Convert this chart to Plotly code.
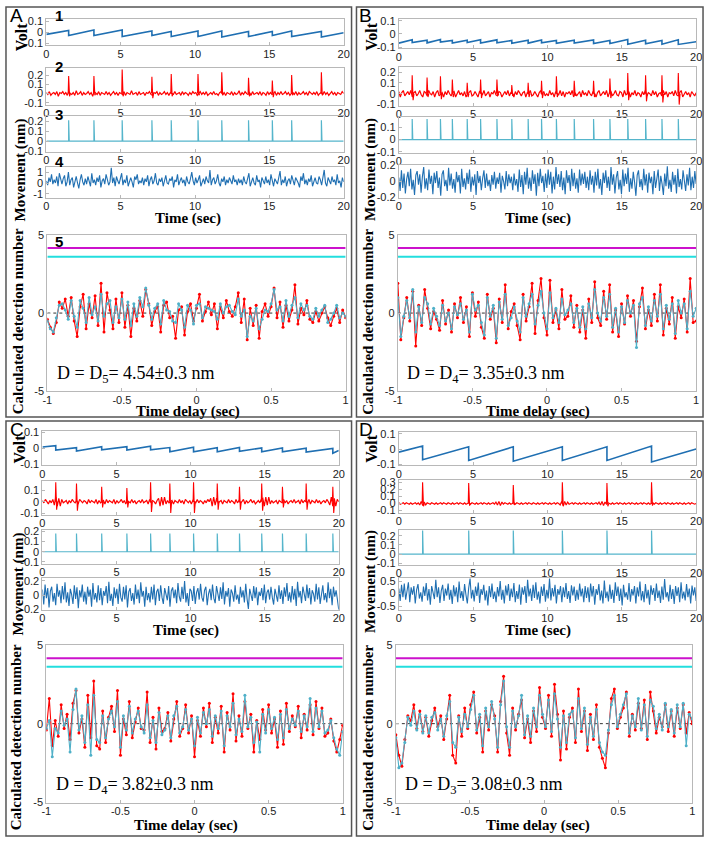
import numpy as np
import plotly.graph_objects as go

W, H = 711, 844

# ---------------- data ----------------
# Panel A
a_reset = [1.5, 3.2, 5.1, 7.1, 8.4, 10.2, 11.8, 13.6, 15.2, 16.5, 18.5]
a_volt_hi = [0.015, 0.02, 0.02, 0.01, 0.005, 0.01, 0.01, 0.005, 0.005, 0.01, 0.005]
a_volt_lo = [-0.03, -0.03, -0.04, -0.03, -0.04, -0.04, -0.045, -0.04, -0.03, -0.04, -0.045]
a_volt_ends = [-0.02, -0.005]
a_spike = [0.19, 0.19, 0.26, 0.18, 0.21, 0.21, 0.23, 0.17, 0.14, 0.2, 0.23]
a_spike_neg = [-0.03, -0.02, -0.03, -0.05, -0.03, -0.02, -0.02, -0.03, -0.04, -0.02, -0.02]
a_model = 0.21
a_noise = [1, -1, 2, -2, 0, 1, -1, 2, -3, 1, 0, 2, -1, 1, -2, 2, 0, -1, 1, -2,
           3, -1, 0, 2, -2, 1, -1, 0, 2, -1, 1, -3, 2, 0, -1, 2, -2, 1, 0, -1,
           2, -1, 1, -2, 0, 2, -1, 1, -2, 1, 0, -1, 2, -2, 1, 0, -1, 3, -1, 0,
           1, -2, 2, -1, 0, 1, -2, 1, 0, 2, -1, -2, 1, 0, 2, -2, 1, -1, 0, 2,
           -1, 1, -2, 1, 0, -1, 2, -1, 0, 1, -2, 2, -1, 1, 0, -2, 1, -1, 2, 0,
           1, -2, 0, 2, -1, 1, -1, 2, -2, 0, 1, -1, 2, -1, 0, -2, 1, 2, -1, 1,
           -2, 1, 0, -1, 2, -2, 1, -1, 0, 3, -2, 1, -1, 2, 0, -1, 1, -2, 2, -1,
           0, 1, -1, 2, -2, 1, 0, -2, 2, -1, 1, -1, 0, 2, -2, 1, -1, 2, -1, 0,
           2, -1, 1, -2, 0, 1, -1, 2, -2, 1, -1, 0, 2, -1, 1, -2, 2, 0, -1, 1,
           -1, 2, -2, 0, 1, -1, 2, -1, 1, -2, 0, 2, -1, 1, -2, 1, 0, -1, 2, 0]  # x0.01 V
a_move = [2, -2, 5, 1, 8, -1, 3, 0, 6, -3, 9, 2, -1, 4, 7, -3, 1, 10, -2, 3, 5, -4, 2, 6, 0, -5, 3, 8, 1, -2,
          4, -1, 6, 2, -3, 9, 0, 3, -2, 5, 1, 7, -4, 2, 4, -1, 8, 3, -2, 1, 14, 0, 5, -3, 6, 2, -1, 4, 9, -2,
          3, 0, 7, -3, 2, 5, 1, -4, 6, 3, 8, -1, 2, 0, 5, -2, 4, 1, 7, -3, 3, 6, -1, 2, 9, 0, -2, 4, 1, 5,
          -3, 3, 7, 0, -1, 4, 2, 6, -4, 3, 1, 8, -2, 2, 5, 0, 3, -3, 6, 1, -1, 4, 10, 2, -2, 5, 0, 3, 7, -3,
          1, 4, -1, 6, 2, 0, 12, -2, 3, 5, -1, 2, 8, 0, -3, 4, 1, 6, -2, 3, 0, 5, 2, -1, 7, 1, 3, -2, 4, 0,
          3, -2, 6, 1, -1, 4, 9, -3, 2, 5, 0, -2, 7, 1, 3, -4, 5, 2, -1, 6, 0, 3, -2, 8, 1, -3, 4, 2, -1, 5,
          11, -2, 3, 0, 6, -3, 2, 4, -1, 7, 1, -2, 5, 3, 0, -4, 6, 2, 9, -1, 3, -2, 4, 1, 7, -3, 2, 5, 0, -1,
          6, 3, -2, 4, 12, 0, -3, 5, 2, -1, 6, 1, 3, -2, 8, 0, 2, -4, 5, 1]  # x0.1 nm
a_det_red = [-4, -9, -13, -6, 7, 3, 9, -2, 10, -5, -15, 4, 12, -10, 6, -3, 11, -8, 19, -12, 13, 2, -10, 9, -6,
             13, -9, 5, -15, 3, -5, 8, -2, 15, 6, -8, 1, 4, -12, 5, 7, -3, -2, -16, 2, 4, -14, 1, 6, -5,
             3, 12, -5, 1, 7, -1, 6, -10, 4, -3, 8, 1, -2, 4, 13, -6, 9, -17, 3, -8, 5, -16, 1, 6, -2,
             4, 16, -3, 7, -9, 5, -5, 2, 18, -7, 3, -1, 8, -4, -6, 1, -5, 0, 4, -3, -8, -2, 3, -6, 2, -3]
a_det_cyan = [-5, -10, -12, -3, 5, 6, 2, -4, 8, -2, -9, 8, 3, -6, 10, -1, 4, -5, 12, -2, 6, 8, -6, 4, -3,
              9, -4, 7, -8, 6, -2, 10, 4, 16, 5, -4, 3, 6, -7, 8, 2, 1, -5, -6, 6, 2, -9, 5, 2, -7,
              5, 6, -3, 4, 3, 2, 1, -4, 6, 0, 4, 5, 1, -1, 9, -2, 2, -15, -2, -5, 3, -10, -4, 2, 1,
              6, 15, 2, 4, -5, 8, -2, 5, 10, -3, 6, 2, 5, -2, -4, 3, -2, 2, 5, -6, -4, 0, 5, -3, 0, -2]

# Panel B
b_reset = [0.9, 1.9, 2.8, 3.6, 4.6, 5.5, 6.6, 7.6, 8.7, 9.6, 10.6, 11.8, 13.1, 14.2, 15.4, 16.6, 17.7, 18.8]
b_volt_hi = [-0.045, -0.048, -0.042, -0.05, -0.047, -0.044, -0.045, -0.05, -0.048, -0.046, -0.05, -0.047,
             -0.045, -0.05, -0.043, -0.048, -0.05, -0.045]
b_volt_lo = [-0.065, -0.068, -0.062, -0.07, -0.066, -0.07, -0.068, -0.072, -0.07, -0.068, -0.072, -0.07,
             -0.074, -0.073, -0.078, -0.075, -0.078, -0.08]
b_volt_ends = [-0.07, -0.06]
b_spike = [0.17, 0.15, 0.16, 0.13, 0.1, 0.13, 0.13, 0.08, 0.1, 0.12, 0.16, 0.12, 0.12, 0.14, 0.19, 0.17, 0.17, 0.19]
b_spike_neg = [-0.06, -0.03, -0.05, -0.03, -0.03, -0.04, -0.02, -0.02, -0.03, -0.04, -0.03, -0.02, -0.03,
               -0.04, -0.06, -0.07, -0.08, -0.1]
b_model = 0.17
b_noise = [2, -3, 1, 3, -2, 0, 2, -1, 3, -3, 1, 2, -2, 0, 3, -1, -3, 2, 1, -2,
           3, 0, -1, 2, -3, 1, 3, -2, 0, 1, -3, 2, -1, 3, 0, -2, 1, 2, -3, 0,
           3, -1, 1, -2, 2, -3, 0, 1, 3, -2, -1, 2, 0, -3, 2, 1, -1, 3, -2, 0,
           2, -3, 1, 0, 3, -1, -2, 2, 1, -3, 0, 2, -1, 3, -2, 1, 0, -3, 2, -1,
           3, 0, -2, 1, 2, -3, 1, 0, 3, -2, -1, 2, 0, -3, 1, 3, -1, 2, -2, 0,
           -2, 3, -1, 1, -3, 2, 0, -1, 3, -2, 2, -3, 1, 0, 2, -1, 3, -3, 1, -2,
           0, 2, -3, 3, -1, 1, -2, 3, 0, -2, 2, -1, -3, 1, 3, -2, 0, 2, -1, 3,
           -3, 1, 2, -2, 0, 3, -1, -2, 2, 1, -3, 3, -1, 0, 2, -3, 1, -1, 3, -2,
           1, 0, -3, 2, -1, 3, -2, 1, 0, -2, 3, -1, 2, -3, 0, 1, -2, 3, -1, 2,
           -3, 1, 0, 2, -2, 3, -1, -2, 1, 3, -3, 0, 2, -1, 1, -3, 2, 0, -2, 1]
b_move = [5, -12, 14, -8, 10, -15, 3, 12, -6, 16, -10, 2, -17, 8, 13, -4, 9, -14, 6, 18, -9, 4, -11, 15, -3,
          7, -16, 11, -2, 13, -8, 5, -18, 9, 14, -6, 2, -12, 17, -5, 10, -9, 3, -14, 12, -1, 8, -15, 16, -7,
          4, -10, 11, -3, 15, -13, 6, -5, 9, -17, 13, -2, 7, -11, 4, 14, -8, 10, -6, 2, -12, 8, -4, 12, -9,
          5, -3, 11, -14, 7, 0, -10, 13, -6, 9, -2, 6, -11, 10, -5, 3, -13, 15, -7, 8, -16, 12, -4, 17, -9,
          5, -12, 14, -3, 9, -18, 11, -6, 16, -2, 7, -13, 10, -8, 15, -4, 12, -15, 6, -10, 18, -3, 9, -7, 13,
          -11, 5, -16, 14, -2, 8, -12, 16, -6, 11, -9, 4, -14, 15, -5, 10, -3, 12, -8, 6, -11, 14, -4,
          7, -14, 12, -5, 16, -9, 3, -17, 11, -2, 14, -8, 6, -12, 18, -4, 9, -15, 5, 13, -10, 2, -16, 15, -6,
          10, -3, 17, -13, 4, -9, 12, -1, -18, 8, 14, -7, 3, -11, 16, -5, 9, -14, 11, -2, 6, -16, 13, -8, 4,
          15, -12, 7, -3, -17, 10, -6, 19, -9, 2, -13, 12, -4, 8, -15, 16, -7, 3, -10, 14, -1, -12, 9, -5, 17,
          -11, 6, -8, 13, -3]  # x0.01 nm
b_det_red = [19, -17, -3, 10, -5, 14, -21, 5, -8, 15, 3, -10, 1, -4, -11, 8, -7, 2, -12, 6, -3, 10, -6, 4, -15,
             13, -2, 7, -9, -16, 12, -4, 3, -19, 9, -6, 18, -10, 1, 6, -8, -17, 12, -5, 4, 19, -13, 8, 22, -3,
             -14, 21, -6, 2, -10, 15, -4, -2, 11, -9, 5, -12, 2, -16, 9, -6, 20, -3, -8, 14, -4, 18, -12, 2,
             -15, 6, -7, 11, -2, 8, -18, 4, 16, -10, 2, -8, 12, -5, 18, -14, 3, -7, 10, -16, 4, -3, 9, -12,
             22, -6, -5]
b_det_cyan = [10, -15, -2, 8, -3, 15, -12, 4, -6, 10, 6, -7, 3, -2, -8, 5, -5, 0, -10, 4, -1, 6, -4, 2, -12,
              12, 2, 5, -6, -14, 10, -2, 5, -16, 7, -4, 12, -8, -3, 4, -5, -12, 10, -2, 6, 12, -7, 5, 14, 0,
              -10, 13, -3, 3, -6, 9, -1, 2, 6, -6, 3, -9, 4, -10, 6, -3, 15, 0, -5, 10, -2, 12, -9, 3, -12,
              4, -6, 8, 0, 5, -22, 6, 10, -8, 4, -5, 8, -2, 12, -10, 5, -4, 6, -13, 8, 0, 6, -10, 14, -2, 3]

# Panel C
c_reset = [0.9, 2.3, 4.0, 5.7, 7.3, 8.6, 10.2, 11.8, 13.3, 14.8, 16.2, 17.8, 19.6]
c_volt_hi = [0.018, 0.005, 0.012, 0.012, 0.015, 0.006, 0.008, 0.005, 0.006, 0.004, 0.003, 0.002, 0.0]
c_volt_lo = [-0.01, -0.015, -0.008, -0.01, -0.008, -0.02, -0.02, -0.02, -0.018, -0.02, -0.02, -0.022, -0.03]
c_volt_ends = [0.01, -0.012]
c_spike = [0.17, 0.16, 0.13, 0.12, 0.17, 0.16, 0.17, 0.16, 0.13, 0.16, 0.13, 0.16, 0.13]
c_spike_neg = [-0.07, -0.08, -0.05, -0.05, -0.09, -0.1, -0.1, -0.07, -0.07, -0.08, -0.05, -0.07, -0.1]
c_model = 0.18
c_noise = [1, -1, 2, 0, -2, 1, -1, 2, -3, 4, -4, 3, -4, 2, -1, 0, 1, -2, 1, -1,
           2, 0, -1, 1, -2, 2, 0, -1, 1, 0, -2, 2, -1, 1, 0, -1, 2, -2, 1, -1,
           0, 1, -2, 2, -1, 1, 0, -1, 2, -2, 1, -1, 0, 2, -1, 1, -2, 1, 0, -1,
           2, -1, 1, -2, 0, 1, -1, 2, -1, 0, 1, -2, 2, -1, 1, 0, -2, 1, 3, -4,
           4, -3, 4, -2, 1, -1, 0, 1, -2, 1, 0, -1, 2, -1, 1, -2, 2, 0, -1, 1,
           -2, 1, 0, -1, 2, -1, 1, 0, -2, 1, -1, 2, 0, 3, -4, 4, -3, 3, -1, 0,
           1, -2, 1, 0, -1, 2, -1, 1, 0, -2, 2, -1, 1, -1, 0, 2, -2, 1, -1, 0,
           2, -1, 1, -2, 0, 1, -1, 2, 3, -4, 4, -3, 4, -2, 1, -1, 0, 1, -2, 1,
           0, -1, 2, -1, 1, -2, 0, 1, -1, 2, -1, 0, 1, -2, 2, -1, 1, 0, -1, 2,
           -2, 1, 0, -1, 2, -1, 1, -2, 0, 1, -1, 2, 0, -3, 4, -4, 3, -4, 2, 0]
c_move = [8, -13, 15, -4, 10, -17, 6, 12, -9, 3, -14, 16, -2, 7, -11, 13, -6, 18, -10, 4, -15, 9, 1, -12, 14,
          -5, 11, -18, 7, -3, 15, -9, 5, -13, 12, -2, 8, -16, 17, -6, 3, -10, 14, -7, 10, -14, 6, -1, 13, -11,
          19, -8, 2, -15, 11, -4, 9, -12, 16, -3, -9, 12, -6, 14, -17, 5, 10, -8, 3, -13, 15, -5, 8, -11, 18,
          -2, 6, -16, 12, -7,
          3, -10, 12, -6, 15, -14, 5, 9, -8, 14, -3, -12, 10, 2, -7, 13, -16, 6, 11, -4, 8, -11, 17, -2, -9,
          12, -5, 20, -10, 3, -15, 9, 6, -8, 13, -12, 4, 10, -6, 16, -3, -9, 7, 12, -14, 2, 9, -7, 15, -4,
          -11, 13, 0, -8, 11, -5, 18, -13, 6, -2, 10, -16, 8, 3, -9, 14, -6, 1, -12, 12, -3, 7, -10, 16, -5,
          -19, 9, 2, -8, 13, -4, 11, -14, 5, -1, 10, -7, 15, -11, 4, 8, -6, 12, -3, -13, 9, 1, -9, 14, -5,
          7, -12, 11, -2, 17, -8, 4, -10, 13, -6, 9, -15, 19, -3, 6, -11, 12, -1, -8, 15, -4, 10, -13, 7, 2,
          -9, 16, -6, 11, -12, 5, 14, -7, 3, -10, 18, -4, 9, -14, 12, -2, 7, -6, -20]
c_det_red = [-4, 16, -14, 2, -8, 12, -3, 6, -10, 13, 21, -6, 3, -15, 18, -9, 27, -14, -16, 8, -12, 4, 11, -5, 21,
             -20, 3, -7, 14, -9, 1, 10, -3, -4, 20, -12, 4, -16, 10, -5, -3, 7, -11, 3, 14, -8, -3, 12, -6, 5,
             -21, 2, -8, 10, -2, 13, -12, 4, -6, 11, -18, 7, -4, 19, -11, 5, -8, 14, -3, 6, -18, 2, -10, 9, -4,
             12, -6, 3, -15, 8, -13, 13, -5, 5, -2, 11, -9, 6, -4, 12, -7, 14, -3, 10, -8, -6, 3, -11, -18, -10, -1]
c_det_cyan = [-3, 2, -21, -3, -6, 8, -1, 3, -18, 9, 22, -4, 5, -12, 12, -20, 18, -10, -12, 5, -9, 3, 8, -2, 14,
              -15, 5, -4, 11, -6, 3, 8, -2, -6, 12, -9, 2, -12, 7, -7, -4, 5, -9, 5, 11, -6, -2, 9, -4, 3,
              -14, 4, -6, 7, 0, 9, -8, 5, -3, 8, -14, 5, -2, 13, -7, 3, -5, 18, -2, 4, -12, 1, -18, 6, -6,
              9, -3, 4, -10, 6, -9, 9, -3, 3, -1, 8, -5, 5, -2, 16, -5, 10, -2, 8, -6, -4, 2, -9, -16, -20, -5]

# Panel D
d_reset = [1.6, 4.7, 7.7, 11.0, 14.0, 17.0]
d_volt_hi = [0.02, 0.015, 0.015, 0.015, 0.015, 0.02]
d_volt_lo = [-0.07, -0.075, -0.08, -0.075, -0.075, -0.085]
d_volt_ends = [-0.02, 0.0]
d_spike = [0.3, 0.29, 0.26, 0.3, 0.29, 0.3]
d_spike_neg = [-0.04, -0.03, -0.02, -0.04, -0.04, -0.03]
d_model = 0.27
d_noise = [1, -1, 0, 1, -1, 1, 0, -1, 1, -1, 0, 1, -1, 1, -2, 3, -3, 2, -2, 1,
           0, -1, 1, 0, -1, 1, -1, 0, 1, -1, 1, 0, -1, 1, 0, -1, 1, -1, 0, 1,
           -1, 1, 0, -1, 1, -1, 0, 1, -1, 1, 0, -1, 1, -1, 0, 1, -1, 1, 0, -1,
           1, -1, 0, 1, -1, 2, -2, 3, -3, 2, -1, 1, 0, -1, 1, -1, 0, 1, -1, 1,
           0, -1, 1, -1, 0, 1, -1, 1, 0, -1, 1, 0, -1, 1, -1, 0, 1, -1, 1, 0,
           -1, 1, -1, 0, 1, -1, 1, 0, -2, 3, -3, 3, -2, 2, -1, 0, 1, -1, 1, 0,
           -1, 1, -1, 0, 1, -1, 1, 0, -1, 1, -1, 0, 1, -1, 2, -2, 3, -3, 2, -1,
           1, 0, -1, 1, -1, 0, 1, -1, 1, 0, -1, 1, -1, 0, 1, -1, 1, 0, -1, 1,
           -1, 0, 1, -1, 1, 0, -1, 1, -1, 0, 1, -1, 1, 0, -1, 1, -1, 0, 1, -1,
           1, 0, -1, 1, -1, 0, 1, -1, 1, 0, -1, 1, -1, 0, 1, -1, 1, 0, -1, 0]
d_move = [20, -30, 35, -15, 40, -25, 10, 45, -35, 25, -5, 30, -40, 15, 38, -20, 5, -33, 28, -10, 42, -28, 18, -45,
          30, 0, -22, 55, -15, 25, -38, 12, 35, -30, 20, -8, 40, -25, 15, -42, 33, -12, 25, -35, 48, -18, 10, -30,
          38, -5, -40, 22, 60, -20, 15, -32, 28, -10, 44, -38, 18, -5, 35, -28, 12, -48, 30, -15, 40, -22, 8, -35,
          26, -12, 50, -25, 15, -40, 32, -8, 38, -30, 20, -15, 42, -35, 10, -22, 36, -45, 25, -5, 30, -38, 55, -12,
          20, -30, 35, -18, 45, -25, 8, -40, 28, -10, 38, -33, 15, -20, 60, -28, 22, -12, 35, -40, 18, -5, 30, -35,
          25, -15, 42, -22, 10, -38, 33, -8, 28, -30, 15, -25, 40, -12, 20, -35, 30, -18,
          25, -35, 40, -12, 30, -45, 18, -5, 38, -28, 12, -40, 52, -18, 8, -32, 36, -22, 15, -38, 45, -10, 28, -30,
          20, -48, 35, -15, 5, -25, 42, -33, 18, -8, 30, -40, 25, -12, 48, -28, 10, -35, 38, -20, 15, -45, 33, -5,
          22, -30, 40, -18, 12, -38, 28, -25, 58, -15, 5, -32, 35, -22, 18, -42, 30, -10, 25, -35, 45, -20, 8, -28,
          38, -15, 20, -40, 32, -8, 25, -30]
d_det_red = [-7, -20, -27, -10, 5, 2, 12, -3, 8, -5, 4, -8, 2, 10, -2, 5, -10, 3, 18, -20, -25, 5, -8, 10, -3,
             12, 20, -6, 4, -18, 8, -4, 12, 5, -18, 14, 30, -6, -20, 10, -4, 6, 15, -9, 3, -12, 8, -5, 23, 4,
             -3, 18, -8, 25, 6, -23, 8, -16, 4, 10, -12, 22, -5, 8, -17, 6, -10, 12, -15, -22, -28, -6, 16, 22,
             -3, 4, 10, 20, -8, 6, -4, 13, -3, 15, -10, 20, 8, -6, 4, -2, 12, -5, 8, -8, 10, -3, 12, -6, 7, 0]
d_det_cyan = [-9, -28, -25, -12, 4, -1, 8, -4, 6, -6, 5, -6, 4, 7, -4, 3, -8, 5, 14, -12, -15, 4, -5, 6, -2,
              9, 18, -4, 6, -14, 10, -2, 14, 3, -15, 12, 27, -2, -15, 8, -2, 5, 18, -7, 5, -8, 10, -2, 18, 6,
              -2, 15, -5, 19, 3, -15, 5, -12, 6, 8, -9, 16, -3, 10, -13, 4, -8, 9, -12, -18, -20, -4, 12, 18,
              -2, 6, 12, 19, -6, 5, -2, 16, -4, 12, -8, 15, 11, -3, 6, -4, 13, -2, 9, -6, 12, -2, 13, -14, 6, 3]

thresh_hi, thresh_lo = 4.15, 3.6
d_labels = {'A': ('5', '4.54'), 'B': ('4', '3.35'), 'C': ('4', '3.82'), 'D': ('3', '3.08')}

# ---------------- geometry (pixels) ----------------
GEOM = {
    'A': dict(x=(42, 344), x5=(43, 346), boxes=[(13, 40), (63, 100), (112, 148), (163, 195), (232, 391)],
              yr=[(-0.12, 0.12), (-0.12, 0.275), (-0.11, 0.25), (-1.4, 1.5)],
              yt=[[-0.1, 0, 0.1], [-0.1, 0, 0.1, 0.2], [-0.1, 0, 0.1, 0.2], [-1, 0, 1]], move_scale=0.1),
    'B': dict(x=(400, 702), x5=(399, 702), boxes=[(13, 43), (62, 101), (113, 149), (161, 195), (232, 391)],
              yr=[(-0.11, 0.115), (-0.109, 0.245), (-0.11, 0.183), (-0.21, 0.21)],
              yt=[[-0.1, 0, 0.1], [-0.1, 0, 0.1, 0.2], [-0.1, 0, 0.1], [-0.2, 0, 0.2]], move_scale=0.01),
    'C': dict(x=(38, 339), x5=(42, 343), boxes=[(431, 466), (482, 516), (532, 566), (580, 613), (648, 808)],
              yr=[(-0.105, 0.11), (-0.114, 0.18), (-0.12, 0.21), (-0.21, 0.245)],
              yt=[[-0.1, 0, 0.1], [-0.1, 0, 0.1], [-0.1, 0, 0.1, 0.2], [-0.2, 0, 0.2]], move_scale=0.01),
    'D': dict(x=(400, 702), x5=(397, 698), boxes=[(432, 466), (481, 514), (532, 567), (580, 613), (648, 808)],
              yr=[(-0.107, 0.113), (-0.13, 0.33), (-0.12, 0.26), (-0.67, 0.63)],
              yt=[[-0.1, 0, 0.1], [-0.1, 0, 0.1, 0.2, 0.3], [-0.1, 0, 0.1, 0.2], [-0.5, 0, 0.5]], move_scale=0.01),
}
DATA = {
    'A': (a_reset, a_volt_hi, a_volt_lo, a_volt_ends, a_spike, a_spike_neg, a_model, a_noise, a_move, a_det_red, a_det_cyan),
    'B': (b_reset, b_volt_hi, b_volt_lo, b_volt_ends, b_spike, b_spike_neg, b_model, b_noise, b_move, b_det_red, b_det_cyan),
    'C': (c_reset, c_volt_hi, c_volt_lo, c_volt_ends, c_spike, c_spike_neg, c_model, c_noise, c_move, c_det_red, c_det_cyan),
    'D': (d_reset, d_volt_hi, d_volt_lo, d_volt_ends, d_spike, d_spike_neg, d_model, d_noise, d_move, d_det_red, d_det_cyan),
}

BLUE = '#1f6fb2'
RED = '#ff0000'
TEAL = '#55b5cb'
SANS = 'Liberation Sans, Arial, sans-serif'
SERIF = 'Liberation Serif, Times New Roman, serif'

fig = go.Figure()
layout = {}
annotations = []
shapes = []
count = [0]


def tt(v):
    return '%g' % v


def new_axes(xpx, ypx, xr, yr, xt, yt):
    count[0] += 1
    n = count[0]
    sfx = '' if n == 1 else str(n)
    style = dict(showline=True, mirror=True, linecolor='#b8b8b8', linewidth=1, ticks='inside', ticklen=3,
                 tickcolor='#b8b8b8', showgrid=False, zeroline=False,
                 tickfont=dict(family=SANS, size=11, color='#222'))
    layout['xaxis' + sfx] = dict(domain=[xpx[0] / W, xpx[1] / W], range=list(xr), anchor='y' + sfx,
                                 tickvals=xt, ticktext=[tt(v) for v in xt], ticklabelstandoff=-2, **style)
    layout['yaxis' + sfx] = dict(domain=[1 - ypx[1] / H, 1 - ypx[0] / H], range=list(yr), anchor='x' + sfx,
                                 tickvals=yt, ticktext=[tt(v) for v in yt], **style)
    return 'x' + sfx, 'y' + sfx


def line(xa, ya, x, y, color, width=1.2, **kw):
    fig.add_trace(go.Scatter(x=x, y=y, xaxis=xa, yaxis=ya, mode=kw.pop('mode', 'lines'),
                             line=dict(color=color, width=width, dash=kw.pop('dash', 'solid')),
                             hoverinfo='skip', showlegend=False, **kw))


def text(xp, yp, s, size, family=SANS, angle=0, bold=False, anchor='center'):
    annotations.append(dict(x=xp / W, y=1 - yp / H, xref='paper', yref='paper', text=('<b>%s</b>' % s) if bold else s,
                            showarrow=False, textangle=angle, xanchor=anchor, yanchor='middle',
                            font=dict(family=family, size=size, color='black')))


for key in ['A', 'B', 'C', 'D']:
    g = GEOM[key]
    reset, hi, lo, ends, spk, spk_neg, model, noise, move, det_r, det_c = DATA[key]
    tx = [0, 5, 10, 15, 20]

    # 1: voltage sawtooth
    xa, ya = new_axes(g['x'], g['boxes'][0], (0, 20), g['yr'][0], tx, g['yt'][0])
    xs, ys = [0], [ends[0]]
    for t, h, l in zip(reset, hi, lo):
        xs += [t, t]
        ys += [h, l]
    xs.append(20)
    ys.append(ends[1])
    line(xa, ya, xs, ys, BLUE, 1.6)

    # 2: measured signal (noise + spikes)
    xa, ya = new_axes(g['x'], g['boxes'][1], (0, 20), g['yr'][1], tx, g['yt'][1])
    line(xa, ya, np.linspace(0, 20, len(noise)), np.array(noise) * 0.01, RED, 1.2)
    xs, ys = [], []
    for t, h, ng in zip(reset, spk, spk_neg):
        xs += [t - 0.03, t, t + 0.06, t + 0.12, None]
        ys += [0, h, ng, 0, None]
    line(xa, ya, xs, ys, RED, 1.1)

    # 3: model spikes
    xa, ya = new_axes(g['x'], g['boxes'][2], (0, 20), g['yr'][2], tx, g['yt'][2])
    xs, ys = [0], [0]
    for t in reset:
        xs += [t, t, t + 0.04]
        ys += [0, model, 0]
    xs.append(20)
    ys.append(0)
    line(xa, ya, xs, ys, TEAL, 1.2)

    # 4: movement
    xa, ya = new_axes(g['x'], g['boxes'][3], (0, 20), g['yr'][3], tx, g['yt'][3])
    line(xa, ya, np.linspace(0, 20, len(move)), np.array(move) * g['move_scale'], BLUE, 1.1)

    # 5: detection number
    xa, ya = new_axes(g['x5'], g['boxes'][4], (-1, 1), (-5, 5), [-1, -0.5, 0, 0.5, 1], [-5, 0, 5])
    line(xa, ya, [-1, 1], [thresh_hi, thresh_hi], '#cc11cc', 2)
    line(xa, ya, [-1, 1], [thresh_lo, thresh_lo], '#22dede', 2)
    line(xa, ya, [-1, 1], [0, 0], '#333', 1, dash='dot')
    line(xa, ya, np.linspace(-1, 1, len(det_r)), np.array(det_r) / 10, RED, 1.1, mode='lines+markers',
         marker=dict(size=3, color=RED))
    line(xa, ya, np.linspace(-1, 1, len(det_c)), np.array(det_c) / 10, '#4fb0c8', 1.1, mode='lines+markers',
         marker=dict(size=3, color='#4fb0c8'))
    sub, val = d_labels[key]
    annotations.append(dict(x=-0.95, y=-3.95, xref=xa, yref=ya, xanchor='left', yanchor='middle', showarrow=False,
                            text='D = D<sub>%s</sub>= %s\u00b10.3 nm' % (sub, val),
                            font=dict(family=SERIF, size=18, color='black')))

# panel frames
for x0, y0, x1, y1 in [(1, 1, 352, 417), (357, 1, 709, 417), (1, 421, 352, 842), (357, 421, 709, 842)]:
    shapes.append(dict(type='rect', xref='paper', yref='paper', x0=x0 / W, x1=x1 / W, y0=1 - y1 / H, y1=1 - y0 / H,
                       line=dict(color='#555', width=1.5)))

# panel letters
for s, xp, yp in [('A', 3, 10), ('B', 358, 10), ('C', 3, 430), ('D', 358, 430)]:
    text(xp, yp, s, 19, anchor='left')

# sub-panel numbers (panel A only)
for s, yp in [('1', 10), ('2', 61), ('3', 110), ('4', 158), ('5', 239)]:
    text(55, yp, s, 15, bold=True)

# axis titles
for dx, dy, mv in [(0, 0, 166), (355, 0, 166), (-2, 420, 586), (355, 420, 584)]:
    text(17 + dx, 31 if dy == 0 else 449, 'Volt', 16, SERIF, -90, True)
    text(16 + dx, mv, 'Movement (nm)', 15, SERIF, -90, True)
    text(14 + dx, 320 if dy == 0 else 742, 'Calculated detection number', 15, SERIF, -90, True)
    text(186 + dx, 216 if dy == 0 else 634, 'Time (sec)', 15, SERIF, 0, True)
    text(186 + dx, 411 if dy == 0 else 831, 'Time delay (sec)', 15, SERIF, 0, True)

fig.update_layout(width=W, height=H, margin=dict(l=0, r=0, t=0, b=0), paper_bgcolor='white',
                  plot_bgcolor='white', annotations=annotations, shapes=shapes, **layout)
fig.write_html("out.html", config={'displayModeBar': False},
               post_script="document.body.style.margin='0px';")
